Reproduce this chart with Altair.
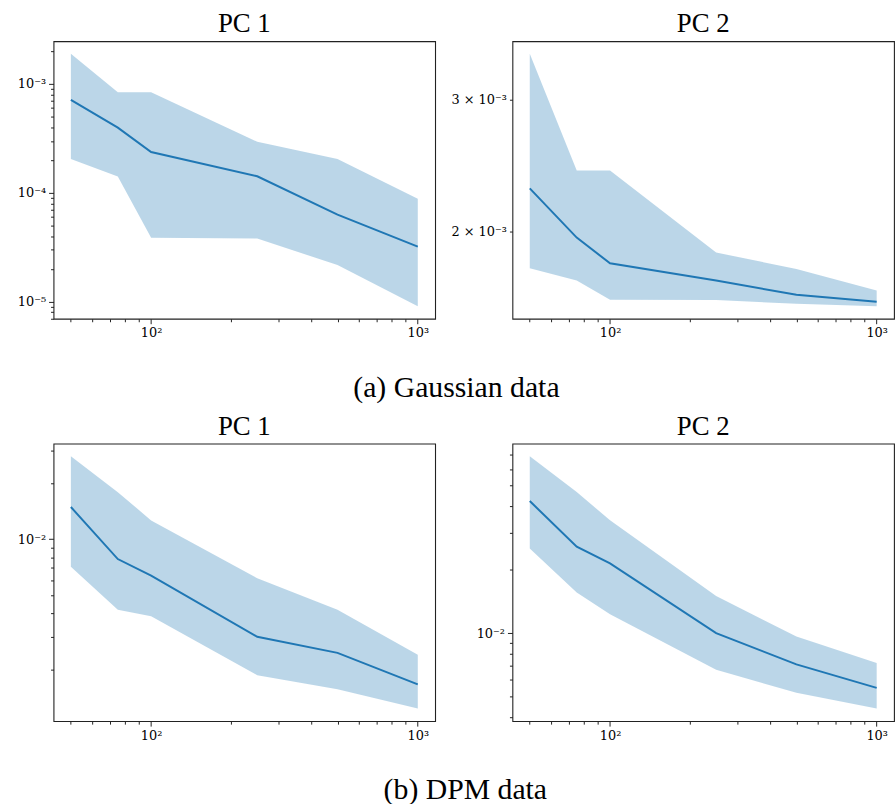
import math
import altair as alt
import pandas as pd

# ---- data ----
x_vals = [50, 75, 100, 250, 500, 1000]

g1_mean = [7.15e-4, 3.97e-4, 2.37e-4, 1.42e-4, 6.3e-5, 3.2e-5]
g1_hi = [1.89e-3, 8.4e-4, 8.4e-4, 2.94e-4, 2.04e-4, 8.8e-5]
g1_lo = [2.04e-4, 1.41e-4, 3.86e-5, 3.81e-5, 2.17e-5, 9.1e-6]

g2_mean = [2.281e-3, 1.960e-3, 1.811e-3, 1.717e-3, 1.644e-3, 1.609e-3]
g2_hi = [3.452e-3, 2.41e-3, 2.41e-3, 1.872e-3, 1.780e-3, 1.666e-3]
g2_lo = [1.784e-3, 1.717e-3, 1.618e-3, 1.617e-3, 1.599e-3, 1.587e-3]

d1_mean = [1.489e-2, 7.82e-3, 6.37e-3, 2.99e-3, 2.45e-3, 1.66e-3]
d1_hi = [2.79e-2, 1.79e-2, 1.262e-2, 6.17e-3, 4.18e-3, 2.39e-3]
d1_lo = [7.12e-3, 4.18e-3, 3.85e-3, 1.86e-3, 1.56e-3, 1.23e-3]

d2_mean = [4.23e-2, 2.57e-2, 2.14e-2, 1.0e-2, 7.11e-3, 5.50e-3]
d2_hi = [6.90e-2, 4.67e-2, 3.43e-2, 1.50e-2, 9.64e-3, 7.21e-3]
d2_lo = [2.52e-2, 1.56e-2, 1.23e-2, 6.71e-3, 5.21e-3, 4.39e-3]

panel_titles = ["PC 1", "PC 2"]
captions = ["(a) Gaussian data", "(b) DPM data"]

x_labels = {100: "10²", 1000: "10³"}
g1_labels = {1e-3: "10⁻³", 1e-4: "10⁻⁴", 1e-5: "10⁻⁵"}
g2_labels = {3e-3: "3 × 10⁻³", 2e-3: "2 × 10⁻³"}
d1_labels = {1e-2: "10⁻²"}
d2_labels = {1e-2: "10⁻²"}

FONT = "Liberation Serif"
TICK_FONT = "DejaVu Serif"
BLUE = "#1f77b4"
INK = "#222222"
W, H = 385, 280


def log_domain(lo, hi, m=0.05):
    a, b = math.log10(lo), math.log10(hi)
    r = b - a
    return [10 ** (a - m * r), 10 ** (b + m * r)]


def log_ticks(dom):
    out = []
    for e in range(-7, 5):
        for k in range(1, 10):
            v = k * 10 ** e
            if dom[0] <= v <= dom[1]:
                out.append(v)
    return out


def label_expr(labels):
    expr = "''"
    for v, lab in labels.items():
        expr = f"abs(datum.value / {v!r} - 1) < 1e-6 ? '{lab}' : (" + expr + ")"
    return expr


def major_test(values):
    return " || ".join(f"abs(datum.value / {v!r} - 1) < 1e-6" for v in values)


def make_axis(values, labels, test, ext):
    return alt.Axis(
        values=values, labelExpr=label_expr(labels),
        tickSize={"condition": {"test": test, "value": 5}, "value": 3},
        labelFlush=False, labelOverlap=False, minExtent=ext, maxExtent=ext,
        labelPadding=3, grid=False, domain=False,
        labelFont=TICK_FONT, labelFontSize=13, labelColor="black",
        tickColor=INK, tickWidth=1,
    )


def panel(title, mean, lo, hi, ylabels, yext, yticks=None, all_minor=False):
    df = pd.DataFrame({"n": x_vals, "mean": mean, "lo": lo, "hi": hi})
    xdom = log_domain(min(x_vals), max(x_vals))
    ydom = log_domain(min(lo), max(hi))
    if yticks is None:
        yticks = log_ticks(ydom)
    xticks = log_ticks(xdom)
    ymaj = "false" if all_minor else major_test(list(ylabels))
    xaxis = make_axis(xticks, x_labels, major_test(list(x_labels)), 25)
    yaxis = make_axis(yticks, ylabels, ymaj, yext)
    x = alt.X("n:Q", scale=alt.Scale(type="log", domain=xdom), axis=xaxis, title=None)
    band = alt.Chart(df).mark_area(color=BLUE, opacity=0.3).encode(
        x=x,
        y=alt.Y("lo:Q", scale=alt.Scale(type="log", domain=ydom), axis=yaxis, title=None),
        y2="hi:Q",
    )
    line = alt.Chart(df).mark_line(color=BLUE, strokeWidth=2).encode(
        x=x,
        y=alt.Y("mean:Q", scale=alt.Scale(type="log", domain=ydom), title=None),
    )
    return alt.layer(band, line).properties(
        width=W, height=H,
        title=alt.TitleParams(text=title, font=FONT, fontSize=27, fontWeight="normal",
                              offset=-24, baseline="bottom", color="black", anchor="middle"),
    )


def caption(text, dx, offset):
    return alt.TitleParams(text=text, orient="bottom", font=FONT, fontSize=30,
                           fontWeight="normal", offset=offset, dx=dx, baseline="top",
                           color="black", anchor="middle")


p1 = panel(panel_titles[0], g1_mean, g1_lo, g1_hi, g1_labels, 53)
p2 = panel(panel_titles[1], g2_mean, g2_lo, g2_hi, g2_labels, 66,
           yticks=list(g2_labels.keys()), all_minor=True)
p3 = panel(panel_titles[0], d1_mean, d1_lo, d1_hi, d1_labels, 53)
p4 = panel(panel_titles[1], d2_mean, d2_lo, d2_hi, d2_labels, 66)

row1 = alt.hconcat(p1, p2, spacing=10, title=caption(captions[0], 9, 29))
row2 = alt.hconcat(p3, p4, spacing=10, title=caption(captions[1], 18, 29))

chart = alt.vconcat(row1, row2, spacing=9).properties(
    padding={"left": 0, "top": 6, "right": 0, "bottom": 0},
    background="white",
).configure_view(
    stroke=INK, strokeWidth=1.1
)

chart.save("out.html", embed_options={"renderer": "svg", "actions": False})
